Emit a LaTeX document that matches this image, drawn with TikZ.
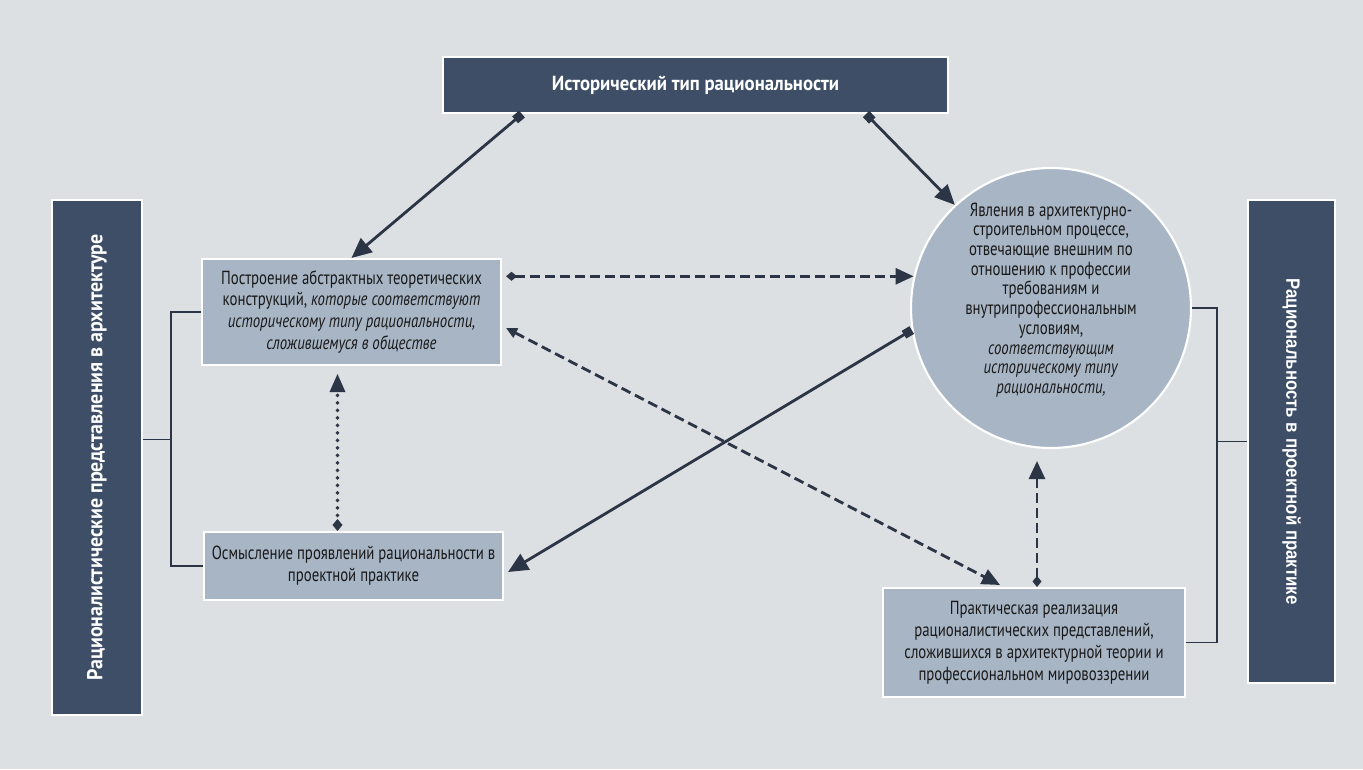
\documentclass[tikz,border=0pt]{standalone}
\usepackage{fontspec}
\setmainfont{PT Sans}[FakeStretch=0.78]
\newfontfamily\headfont{PT Sans}[FakeStretch=0.92]
\newfontfamily\barfont{Liberation Sans}[FakeStretch=0.87]
\usepackage{xcolor}
\usetikzlibrary{positioning}
\usetikzlibrary{arrows.meta}
\usetikzlibrary{calc}
\definecolor{navy}{HTML}{3D4E66}
\definecolor{pale}{HTML}{A8B5C5}
\definecolor{ground}{HTML}{DDE0E3}
\definecolor{ink}{HTML}{2C3545}
\tikzset{headbox/.style={fill=navy, draw=white, line width=1.2pt, text=white,
font=\headfont\bfseries\fontsize{11.6}{14}\selectfont, inner sep=0pt},
textbox/.style={fill=pale, draw=white, line width=1.2pt, text=black!90, align=center,
font=\fontsize{10.8}{12.5}\selectfont, inner sep=0pt},
link/.style={ink, line width=1.1pt},
solidarr/.style={ink, line width=1.6pt, {Square[length=0.18cm,width=0.18cm]}-{Triangle[length=0.4cm,width=0.36cm]}},
dasharr/.style={ink, line width=1.6pt, dash pattern=on 0.2cm off 0.1cm},
dotarr/.style={ink, line width=2.2pt, line cap=round, dash pattern=on 0pt off 0.15cm}}

\begin{document}
\begin{tikzpicture}[x=0.02cm, y=-0.02cm]
	\fill[ground] (0,0) rectangle (1363,769);
	\useasboundingbox (0,0) rectangle (1363,769);
	% blocks
	\node[headbox, minimum width=10.1cm, minimum height=1.12cm] (top) at (695.5,85) {Исторический тип рациональности};
	\node[headbox, font=\headfont\bfseries\fontsize{12.3}{14}\selectfont, rotate=90, minimum width=10.3cm, minimum height=1.8cm] (leftbar) at (97,457.5) {Рационалистические представления в архитектуре};
	\node[headbox, font=\barfont\bfseries\fontsize{11}{13}\selectfont, rotate=-90, minimum width=9.66cm, minimum height=1.74cm] (rightbar) at (1291.5,441.5) {Рациональность в проектной практике};
	\node[textbox, minimum width=5.98cm, minimum height=2.12cm] (upbox) at (351.5,312)
		{Построение абстрактных теоретических\\ конструкций, \textit{которые соответствуют}\\ \textit{историческому типу рациональности,}\\ \textit{сложившемуся в обществе}};
	\node[textbox, minimum width=5.98cm, minimum height=1.36cm] (lowbox) at (353.5,566)
		{Осмысление проявлений рациональности в\\ проектной практике};
	\node[textbox, minimum width=6.04cm, minimum height=2.18cm] (prbox) at (1034,642.5)
		{Практическая реализация\\ рационалистических представлений,\\ сложившихся в архитектурной теории и\\ профессиональном мировоззрении};
	\node[circle, fill=pale, draw=white, line width=1.2pt, minimum size=5.6cm, inner sep=0pt] (circ) at (1051,308) {};
	\node[align=center, text=black!90, font=\fontsize{10.8}{11.2}\selectfont] (circtext) at ($(circ)+(0,-8)$)
		{Явления в архитектурно-\\ строительном процессе,\\ отвечающие внешним по\\ отношению к профессии\\ требованиям и\\ внутрипрофессиональным\\ условиям,\\ \textit{соответствующим}\\ \textit{историческому типу}\\ \textit{рациональности,}};
	% brackets
	\draw[link] (upbox.west) -- ++(-30,0) coordinate (lj) |- (lowbox.west);
	\draw[link] ($(leftbar.south)+(0,-18)$) -- ($(leftbar.south -| lj)+(0,-18)$);
	\draw[link] (circ.east) -- ++(25,0) coordinate (rj) |- (prbox.east);
	\draw[link] (rightbar.south) -- (rightbar.south -| rj);
	% arrows
	\draw[solidarr] ($(top.south west)+(80,0)$) -- (upbox.north);
	\draw[solidarr] ($(top.south east)+(-83,0)$) -- (circ.133);
	\draw[solidarr] (circ.189) -- ($(lowbox.east)+(4,6)$);
	\draw[dasharr, {Diamond[length=0.22cm,width=0.18cm]}-{Triangle[length=0.36cm,width=0.32cm]}]
		($(upbox.east |- circ.167)+(4,0)$) -- (circ.167);
	\draw[dasharr, {Triangle[length=0.22cm,width=0.2cm]}-{Triangle[length=0.36cm,width=0.32cm]}]
		($(upbox.east)+(4,16)$) -- ($(prbox.north)+(-34,-2)$);
	\coordinate (dl) at ($(lowbox.north)+(-16,0)$);
	\draw[dotarr, {Diamond[length=0.24cm,width=0.2cm,line width=0pt]}-{Triangle[length=0.36cm,width=0.32cm,line width=0pt]}, shorten >=0.16cm]
		(dl) -- (dl |- upbox.south);
	\coordinate (dr) at ($(prbox.north)+(3,0)$);
	\draw[dasharr, {Diamond[length=0.22cm,width=0.18cm]}-{Triangle[length=0.36cm,width=0.32cm]}, shorten >=0.24cm]
		(dr) -- (dr |- circ.south);
\end{tikzpicture}
\end{document}
